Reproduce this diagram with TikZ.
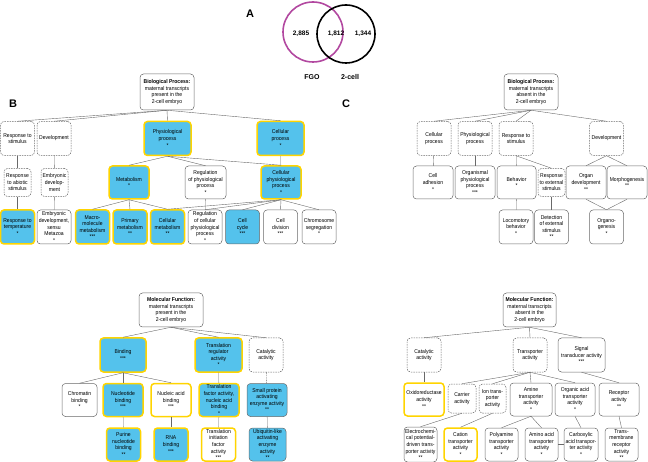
\documentclass[tikz,border=0pt]{standalone}
\usepackage{fontspec}
\setmainfont{Liberation Sans}
\newfontfamily\gofont[FakeStretch=0.9]{Liberation Sans}

\definecolor{gohit}{RGB}{84,194,236}
\definecolor{gorim}{RGB}{255,212,0}
\definecolor{goline}{RGB}{105,105,105}
\definecolor{fgocol}{RGB}{178,72,160}

\tikzset{
  term/.style={draw=goline, line width=0.5pt, rounded corners=3.5pt, fill=white,
    align=center, inner sep=0.5pt, font=\gofont\fontsize{5.6}{6.6}\selectfont},
  hit/.style={term, fill=gohit},
  rim/.style={draw=gorim, line width=1.5pt},
  absent/.style={term, dash pattern=on 1.5pt off 1pt},
  rootbox/.style={term, minimum height=36pt},
  wbig/.style={minimum width=47pt, minimum height=34pt},
  wmed/.style={minimum width=40pt, minimum height=33pt},
  wsml/.style={minimum width=34pt, minimum height=34pt},
  wtiny/.style={minimum width=27pt, minimum height=28pt},
  link/.style={draw=goline, line width=0.4pt},
  panel/.style={font=\bfseries\fontsize{11}{11}\selectfont},
  venn/.style={font=\bfseries\fontsize{6.5}{6.5}\selectfont}
}

\begin{document}
\begin{tikzpicture}[x=1pt, y=-1pt]
\useasboundingbox (0,0) rectangle (648,462);

% A: overlap of transcript sets
\node[panel] (labA) at (250,14) {A};
\draw[fgocol, line width=1.6pt] (313,32) circle (30pt);
\draw[black, line width=1.6pt] (346,34) circle (29pt);
\node[venn] (nfgo) at (301,34) {2,885};
\node[venn] (nboth) at (336,34) {1,812};
\node[venn] (ntwo) at (363,34) {1,344};
\node[venn, font=\bfseries\fontsize{7}{7}\selectfont] (tfgo) at (312,77) {FGO};
\node[venn, font=\bfseries\fontsize{7}{7}\selectfont] (ttwo) at (350,77) {2-cell};

\node[panel] (labB) at (13,104) {B};
\node[panel] (labC) at (346,104) {C};

% B: biological process, present
\node[rootbox, minimum width=54pt] (bproot) at (167,92)
  {\textbf{Biological Process:}\\maternal transcripts\\present in the\\2-cell embryo};
\node[absent, wsml] (bresp) at (17.5,138.5) {Response to\\stimulus};
\node[absent, wsml] (bdev) at (54,138.5) {Development};
\node[hit, rim, wbig] (bphys) at (167.5,138.5) {Physiological\\process\\*};
\node[hit, rim, wbig] (bcell) at (280.5,138.5) {Cellular\\process\\*};

\node[absent, wtiny] (babio) at (17.5,182.5) {Response\\to abiotic\\stimulus};
\node[absent, wtiny] (bembr) at (54.5,182.5) {Embryonic\\develop-\\ment};
\node[hit, rim, wmed] (bmeta) at (129,182.5) {Metabolism\\*};
\node[term, wmed, minimum width=41pt] (breg) at (205.5,182.5) {Regulation\\of physiological\\process\\*};
\node[hit, rim, wmed] (bcphys) at (281,182.5) {Cellular\\physiological\\process\\*};

\node[hit, rim, wsml] (btemp) at (17.5,227) {Response to\\temperature\\*};
\node[term, wsml] (bsensu) at (54,227) {Embryonic\\development,\\sensu\\Metazoa\\*};
\node[hit, rim, wsml] (bmacro) at (92.5,227) {Macro-\\molecule\\metabolism\\***};
\node[hit, rim, wsml] (bprim) at (130,227) {Primary\\metabolism\\**};
\node[hit, rim, wsml] (bcmeta) at (167.5,227) {Cellular\\metabolism\\**};
\node[term, wsml] (bcreg) at (205,227) {Regulation\\of cellular\\physiological\\process\\*};
\node[hit, wsml] (bcycle) at (242.5,227) {Cell\\cycle\\***};
\node[term, wsml] (bdiv) at (280.5,227) {Cell\\division\\***};
\node[term, wsml] (bchrom) at (319,227) {Chromosome\\segregation\\*};

\draw[link] (bproot.south) -- (bresp.north);
\draw[link] (bproot.south) -- (bdev.north);
\draw[link] (bproot.south) -- (bphys.north);
\draw[link] (bproot.south) -- (bcell.north);
\draw[link] (bresp) -- (babio);
\draw[link] (bdev) -- (bembr);
\draw[link] (bphys.south) -- (bmeta.north);
\draw[link] (bphys.south) -- (breg.north);
\draw[link] (bphys.south) -- (bcphys.north);
\draw[link] (bcell) -- (bcphys);
\draw[link] (babio) -- (btemp);
\draw[link] (bembr) -- (bsensu);
\draw[link] (bmeta.south) -- (bmacro.north);
\draw[link] (bmeta.south) -- (bprim.north);
\draw[link] (bmeta.south) -- (bcmeta.north);
\draw[link] (breg) -- (bcreg);
\draw[link] (bcphys.south) -- (bcmeta.north);
\draw[link] (bcphys.south) -- (bcreg.north);
\draw[link] (bcphys.south) -- (bcycle.north);
\draw[link] (bcphys.south) -- (bdiv.north);
\draw[link] (bcphys.south) -- (bchrom.north);

% C: biological process, absent
\node[rootbox, minimum width=54pt] (croot) at (531,92)
  {\textbf{Biological Process:}\\maternal transcripts\\absent in the\\2-cell embryo};
\node[absent, wsml] (ccell) at (434,138.5) {Cellular\\process};
\node[absent, wsml] (cphys) at (475,138.5) {Physiological\\process};
\node[absent, wsml] (cresp) at (516,138.5) {Response to\\stimulus};
\node[absent, wsml] (cdev) at (606.5,138.5) {Development};

\node[term, wmed] (cadh) at (433,182.5) {Cell\\adhesion\\*};
\node[term, wmed] (corg) at (475,182.5) {Organismal\\physiological\\process\\***};
\node[term, wmed, minimum width=39pt] (cbeh) at (516.5,182.5) {Behavior\\*};
\node[absent, wtiny] (cext) at (551.5,182.5) {Response\\to external\\stimulus};
\node[term, wmed] (codev) at (586,182.5) {Organ\\development\\**};
\node[term, wmed] (cmorph) at (627,182.5) {Morphogenesis\\**};

\node[term, wsml] (cloco) at (516,227) {Locomotory\\behavior\\*};
\node[term, wsml] (cdet) at (551.5,227) {Detection\\of external\\stimulus\\**};
\node[term, wsml] (cogen) at (606.5,227) {Organo-\\genesis\\*};

\draw[link] (croot.south) -- (ccell.north);
\draw[link] (croot.south) -- (cphys.north);
\draw[link] (croot.south) -- (cresp.north);
\draw[link] (croot.south) -- (cdev.north);
\draw[link] (ccell) -- (cadh);
\draw[link] (cphys) -- (corg);
\draw[link] (cresp) -- (cbeh);
\draw[link] (cresp.south) -- (cext.north);
\draw[link] (cdev.south) -- (codev.north);
\draw[link] (cdev.south) -- (cmorph.north);
\draw[link] (cbeh) -- (cloco);
\draw[link] (cext) -- (cdet);
\draw[link] (codev.south) -- (cogen.north);
\draw[link] (cmorph.south) -- (cogen.north);

% B: molecular function, present
\node[rootbox, minimum width=64pt, minimum height=34pt] (bmroot) at (171,310)
  {\textbf{Molecular Function:}\\maternal transcripts\\present in the\\2-cell embryo};
\node[hit, rim, wbig, minimum width=46pt] (bbind) at (123,355) {Binding\\***};
\node[hit, rim, wbig] (btrans) at (218.5,355) {Translation\\regulator\\activity\\*};
\node[absent, wsml] (bcat) at (266,355) {Catalytic\\activity};

\node[term, wsml, minimum width=35pt, minimum height=33pt] (bchr) at (79.5,400) {Chromatin\\binding\\*};
\node[hit, rim, wmed] (bnuc) at (123,400) {Nucleotide\\binding\\***};
\node[term, rim, wmed] (bnacid) at (171,400) {Nucleic acid\\binding\\***};
\node[hit, rim, wmed] (btfact) at (219,400) {Translation\\factor activity,\\nucleic acid\\binding\\*};
\node[hit, wmed] (bsmall) at (267,400) {Small protein\\activating\\enzyme activity\\**};

\node[hit, rim, wsml, minimum height=33pt] (bpur) at (123.5,444.5) {Purine\\nucleotide\\binding\\**};
\node[hit, rim, wsml, minimum height=33pt] (brna) at (171,444.5) {RNA\\binding\\***};
\node[term, rim, wsml, minimum height=33pt] (btinit) at (218.5,444.5) {Translation\\initiation\\factor\\activity\\***};
\node[hit, wsml, minimum width=37pt, minimum height=33pt] (bubiq) at (267.5,444.5) {Ubiquitin-like\\activating\\enzyme\\activity\\**};

\draw[link] (bmroot.south) -- (bbind.north);
\draw[link] (bmroot.south) -- (btrans.north);
\draw[link] (bmroot.south) -- (bcat.north);
\draw[link] (bbind.south) -- (bchr.north);
\draw[link] (bbind) -- (bnuc);
\draw[link] (bbind.south) -- (bnacid.north);
\draw[link] (btrans) -- (btfact);
\draw[link, dash pattern=on 1.5pt off 1pt] (bcat) -- (bsmall);
\draw[link] (bnuc) -- (bpur);
\draw[link] (bnacid) -- (brna);
\draw[link] (btfact) -- (btinit);
\draw[link] (bsmall) -- (bubiq);

% C: molecular function, absent
\node[rootbox, minimum width=53pt, minimum height=34pt] (cmroot) at (529.5,310)
  {\textbf{Molecular Function:}\\maternal transcripts\\absent in the\\2-cell embryo};
\node[absent, wsml] (ccat) at (424,355) {Catalytic\\activity};
\node[absent, wsml] (ctrans) at (530,355) {Transporter\\activity};
\node[term, wbig] (csig) at (581.5,355) {Signal\\transducer activity\\***};

\node[term, rim, wmed] (coxi) at (424,399.5) {Oxidoreductase\\activity\\**};
\node[absent, wtiny, minimum width=28pt, minimum height=29pt] (ccarr) at (462,398.5) {Carrier\\activity};
\node[absent, wtiny, minimum height=29pt] (cion) at (492.5,398.5) {Ion trans-\\porter\\activity};
\node[term, wmed, minimum width=42pt] (camine) at (531,399.5) {Amine\\transporter\\activity\\*};
\node[term, wmed] (corgac) at (575,399.5) {Organic acid\\transporter\\activity\\*};
\node[term, wmed] (crec) at (619,399.5) {Receptor\\activity\\**};

\node[term, wsml, minimum width=33pt, minimum height=35pt] (celec) at (420.5,444.5) {Electrochemi-\\cal potential-\\driven trans-\\porter activity\\**};
\node[term, rim, wsml, minimum width=33pt, minimum height=33pt] (ccation) at (460.5,444.5) {Cation\\transporter\\activity\\*};
\node[term, wsml, minimum width=33pt, minimum height=33pt] (cpoly) at (501.5,444.5) {Polyamine\\transporter\\activity\\*};
\node[term, wsml, minimum width=33pt, minimum height=33pt] (camino) at (541.5,444.5) {Amino acid\\transporter\\activity\\*};
\node[term, wsml, minimum height=33pt] (ccarb) at (581,444.5) {Carboxylic\\acid transpor-\\ter activity\\*};
\node[term, wsml, minimum width=33pt, minimum height=33pt] (ctm) at (621.5,444.5) {Trans-\\membrane\\receptor\\activity\\**};

\draw[link] (cmroot.south) -- (ccat.north);
\draw[link] (cmroot.south) -- (ctrans.north);
\draw[link] (cmroot.south) -- (csig.north);
\draw[link] (ccat) -- (coxi);
\draw[link] (ctrans.south) -- (ccarr.north);
\draw[link] (ctrans.south) -- (cion.north);
\draw[link] (ctrans.south) -- (camine.north);
\draw[link] (ctrans.south) -- (corgac.north);
\draw[link] (csig.south) -- (crec.north);
\draw[link] (ccarr.south) -- (celec.north);
\draw[link] (cion.south) -- (ccation.north);
\draw[link] (camine.south) -- (cpoly.north);
\draw[link] (camine.south) -- (camino.north);
\draw[link] (corgac.south) -- (ccarb.north);
\draw[link] (ccarb.west) -- (camino.east);
\draw[link] (crec.south) -- (ctm.north);

\end{tikzpicture}
\end{document}
